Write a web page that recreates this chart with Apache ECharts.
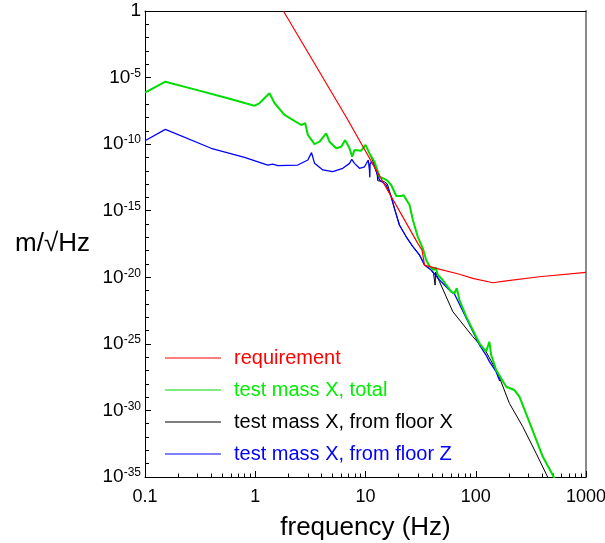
<!DOCTYPE html>
<html><head><meta charset="utf-8">
<script src="https://cdn.jsdelivr.net/npm/echarts@6/dist/echarts.min.js"></script>
<style>html,body{margin:0;padding:0;background:#fff}#c{width:605px;height:543px}</style>
</head><body><div id="c"></div>
<script>
// ---- axis ticks / labels ----
const xTickLabels = [0.1, 1, 10, 100, 1000];
const xMinorTicks = [0.2,0.3,0.4,0.5,0.6,0.7,0.8,0.9, 2,3,4,5,6,7,8,9, 20,30,40,50,60,70,80,90, 200,300,400,500,600,700,800,900];
const yTickLabels = [1, 1e-5, 1e-10, 1e-15, 1e-20, 1e-25, 1e-30, 1e-35];
const yMinorTicks = [1e-1,1e-2,1e-3,1e-4, 1e-6,1e-7,1e-8,1e-9, 1e-11,1e-12,1e-13,1e-14, 1e-16,1e-17,1e-18,1e-19,
  1e-21,1e-22,1e-23,1e-24, 1e-26,1e-27,1e-28,1e-29, 1e-31,1e-32,1e-33,1e-34];

// ---- series names ----
const seriesNames = ['requirement', 'test mass X, total', 'test mass X, from floor X', 'test mass X, from floor Z'];

// ---- requirement ----
const reqFreq = [1.80, 6.68, 29.8, 32.6, 34.3, 35.7, 43.7, 71.2, 94, 143, 189, 378, 1000];
const reqVal  = [1.0, 1.1e-8, 3.5e-18, 1.1e-18, 8.3e-20, 7.1e-20, 4.7e-20, 1.7e-20, 8.3e-21, 3.9e-21, 5.3e-21, 1.1e-20, 2.35e-20];

// ---- test mass X, total ----
const totFreq = [0.1, 0.153, 0.281, 0.563, 0.984, 1.09, 1.346, 1.495, 1.84, 2.61, 2.84, 3.0, 3.45, 3.83, 4.40, 4.71,
  5.42, 6.02, 6.54, 7.16, 7.57, 7.94, 9.14, 10.0, 10.87, 12.07, 13.4, 15.6, 17.1, 19.0, 21.1, 22.1, 25.1, 26.9,
  29.8, 33.1, 35.5, 38.0, 41.4, 43.2, 45.3, 50.2, 59.8, 64.1, 67.3, 71.2, 81.9, 108, 124, 133, 138, 153, 189,
  224, 233, 249, 318, 406, 518];
const totVal = [7.3e-7, 4.9e-6, 1.3e-6, 2.8e-7, 7.7e-8, 1.17e-7, 6.6e-7, 1.23e-7, 1.55e-8, 2.74e-9, 3.7e-9, 4.9e-10,
  1.0e-10, 1.52e-10, 6.5e-10, 1.52e-10, 4.9e-11, 6.4e-11, 2.0e-10, 4.9e-11, 1.14e-11, 3.6e-11, 3.2e-11, 8.7e-11,
  2.0e-11, 4.8e-12, 3.6e-13, 2.0e-13, 8.5e-14, 1.27e-14, 1.27e-14, 1.5e-14, 2.7e-15, 2.0e-16, 1.1e-17, 1.5e-18,
  2.0e-19, 7.1e-20, 3.5e-20, 5.6e-20, 1.48e-20, 6.3e-21, 8.3e-22, 6.3e-22, 1.5e-21, 1.96e-22, 1.1e-23, 1.1e-25,
  2.6e-26, 1.45e-25, 1.45e-26, 1.1e-27, 6.0e-29, 3.4e-29, 4.6e-29, 1.07e-29, 6.0e-32, 3.3e-34, 8e-36];

// ---- test mass X, from floor X ----
const flXFreq = [10.87, 12.07, 12.77, 12.9, 14.85, 15.8, 17.1, 18.3, 20.3, 23.4, 26.9, 30.9, 34.3, 39.4, 41.4, 42.8,
  43.2, 46.9, 62.0, 94.0, 124, 158.5, 202, 267, 353, 450];
const flXVal = [2.0e-11, 2.7e-12, 4.8e-13, 1.8e-13, 1.5e-13, 1.0e-13, 1.1e-14, 1.5e-15, 8.5e-17, 1.1e-17, 2.0e-18,
  4.7e-19, 8.3e-20, 3.5e-20, 2.0e-20, 2.6e-21, 2.5e-20, 4.7e-21, 2.6e-23, 3.5e-25, 2.6e-26, 6.2e-28, 3.4e-30,
  6.0e-32, 6.0e-34, 9.5e-36];

// ---- test mass X, from floor Z ----
const flZFreq = [0.1, 0.153, 0.398, 0.799, 1.30, 1.44, 1.60, 2.43, 3.0, 3.24, 3.45, 4.10, 5.05, 6.22, 7.16, 7.51,
  7.94, 8.83, 9.80, 10.6, 10.87, 10.94, 11.0, 11.27, 12.07, 13.4, 15.4, 17.1, 18.3, 20.3, 23.4, 26.9, 30.9, 34.3,
  39.4, 46.9, 59.8, 64.1, 81.9, 108, 124, 133, 153, 165];
const flZVal = [1.8e-10, 1.3e-9, 4.9e-11, 1.03e-11, 2.7e-12, 3.1e-12, 2.4e-12, 2.7e-12, 6.4e-12, 2.3e-11, 3.6e-12,
  1.15e-12, 8.5e-13, 1.54e-12, 3.6e-12, 7.3e-12, 3.6e-12, 1.54e-12, 2.0e-12, 6.4e-12, 1.0e-12, 3.2e-13, 3.0e-12,
  4.8e-12, 2.0e-12, 2.0e-13, 8.5e-14, 1.1e-14, 1.5e-15, 8.5e-17, 1.1e-17, 2.0e-18, 4.7e-19, 8.3e-20, 3.5e-20,
  6.3e-21, 8.3e-22, 5.5e-22, 8.7e-24, 8.2e-26, 1.45e-26, 4.6e-27, 8.1e-28, 1.6e-28];

const zip = (a, b) => a.map((v, i) => [v, b[i]]);
const FONT = 'Liberation Sans, Arial, sans-serif';

const chart = echarts.init(document.getElementById('c'), null, {renderer: 'canvas'});
const xCommon = {type: 'log', logBase: 10, min: 0.1, max: 1000, gridIndex: 0, splitLine: {show: false}};
const yCommon = {type: 'log', logBase: 10, min: 1e-35, max: 1, gridIndex: 0, splitLine: {show: false}};

chart.setOption({
  animation: false,
  backgroundColor: '#fff',
  grid: {left: 145, right: 19, top: 11, bottom: 66, containLabel: false, outerBoundsMode: 'none'},
  xAxis: [
    Object.assign({}, xCommon, {
      position: 'bottom',
      name: 'frequency (Hz)', nameLocation: 'middle', nameGap: 38,
      nameTextStyle: {fontSize: 26, color: '#000', fontFamily: FONT},
      axisLine: {show: true, onZero: false, lineStyle: {color: '#000', width: 1}},
      axisTick: {show: true, inside: true, length: 6, lineStyle: {color: '#000'}, customValues: xTickLabels},
      axisLabel: {show: true, customValues: xTickLabels, fontSize: 18, color: '#000', fontFamily: FONT, margin: 11,
        formatter: v => String(v)}
    }),
    Object.assign({}, xCommon, {
      position: 'bottom',
      axisLine: {show: false, onZero: false},
      axisTick: {show: true, inside: true, length: 3.5, lineStyle: {color: '#000'}, customValues: xMinorTicks},
      axisLabel: {show: false}
    }),
    Object.assign({}, xCommon, {
      position: 'top',
      axisLine: {show: true, onZero: false, lineStyle: {color: '#000', width: 1}},
      axisTick: {show: false}, axisLabel: {show: false}
    })
  ],
  yAxis: [
    Object.assign({}, yCommon, {
      position: 'left',
      name: 'm/√Hz', nameLocation: 'middle', nameRotate: 0, nameGap: 55,
      nameTextStyle: {fontSize: 26, color: '#000', fontFamily: FONT},
      axisLine: {show: true, onZero: false, lineStyle: {color: '#000', width: 1}},
      axisTick: {show: true, inside: true, length: 6, lineStyle: {color: '#000'}, customValues: yTickLabels},
      axisLabel: {show: true, customValues: yTickLabels, margin: 4, color: '#000', fontFamily: FONT,
        formatter: v => {
          const e = Math.round(Math.log10(v));
          return e === 0 ? '{b|1}' : '{b|10}{s|' + e + '}';
        },
        rich: {
          b: {fontSize: 19, lineHeight: 20, color: '#000', fontFamily: FONT},
          s: {fontSize: 12, lineHeight: 12, verticalAlign: 'top', color: '#000', fontFamily: FONT}
        }
      }
    }),
    Object.assign({}, yCommon, {
      position: 'left',
      axisLine: {show: false, onZero: false},
      axisTick: {show: true, inside: true, length: 4, lineStyle: {color: '#000'}, customValues: yMinorTicks},
      axisLabel: {show: false}
    }),
    Object.assign({}, yCommon, {
      position: 'right',
      axisLine: {show: true, onZero: false, lineStyle: {color: '#8a8a8a', width: 2}},
      axisTick: {show: false}, axisLabel: {show: false}
    })
  ],
  legend: {
    orient: 'vertical', left: 165, top: 348, padding: 0, icon: 'rect', itemWidth: 56, itemHeight: 1.2, itemGap: 12,
    textStyle: {fontSize: 20, fontFamily: FONT, padding: [0, 0, 0, 8]},
    data: [
      {name: seriesNames[0], textStyle: {color: '#ff0000'}},
      {name: seriesNames[1], textStyle: {color: '#00ee00'}},
      {name: seriesNames[2], textStyle: {color: '#000000'}},
      {name: seriesNames[3], textStyle: {color: '#0000ff'}}
    ]
  },
  series: [
    {name: seriesNames[0], type: 'line', data: zip(reqFreq, reqVal), showSymbol: false, symbol: 'none', z: 6,
      color: '#ff0000', lineStyle: {color: '#ff0000', width: 1.2}},
    {name: seriesNames[1], type: 'line', data: zip(totFreq, totVal), showSymbol: false, symbol: 'none', z: 5,
      color: '#00dd00', lineStyle: {color: '#00dd00', width: 2}},
    {name: seriesNames[2], type: 'line', data: zip(flXFreq, flXVal), showSymbol: false, symbol: 'none', z: 3,
      color: '#000000', lineStyle: {color: '#000000', width: 1}},
    {name: seriesNames[3], type: 'line', data: zip(flZFreq, flZVal), showSymbol: false, symbol: 'none', z: 4,
      color: '#0000ff', lineStyle: {color: '#0000ff', width: 1.3}}
  ]
});
</script></body></html>
